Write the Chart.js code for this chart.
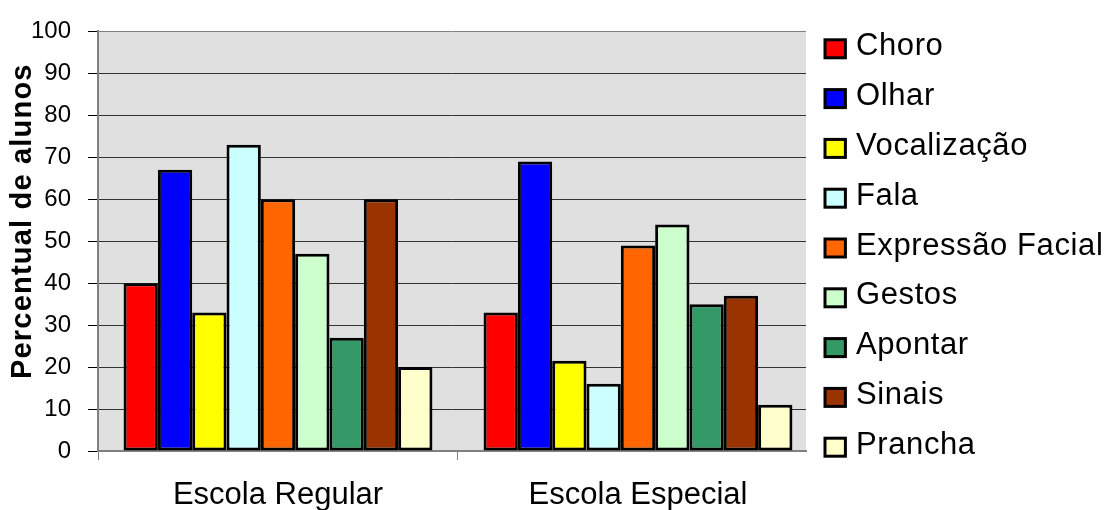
<!DOCTYPE html>
<html>
<head>
<meta charset="utf-8">
<script src="https://cdn.jsdelivr.net/npm/chart.js@4/dist/chart.umd.min.js"></script>
<style>
  html, body { margin: 0; padding: 0; background: #fff; }
  #wrap { width: 1112px; height: 510px; position: relative; }
</style>
</head>
<body>
<div id="wrap"><canvas id="c" width="1112" height="510"></canvas></div>
<script>
// School type groups along the horizontal axis
const categories = ['Escola Regular', 'Escola Especial'];

// Communication forms (one series each)
const seriesNames = ['Choro', 'Olhar', 'Vocalização', 'Fala', 'Expressão Facial', 'Gestos', 'Apontar', 'Sinais', 'Prancha'];

// Percentage of students per communication form: [Regular, Especial]
const choro        = [40, 33];
const olhar        = [67, 69];
const vocalizacao  = [33, 21.5];
const fala         = [73, 16];
const expressao    = [60, 49];
const gestos       = [47, 54];
const apontar      = [27, 35];
const sinais       = [60, 37];
const prancha      = [20, 11];

const seriesValues = [choro, olhar, vocalizacao, fala, expressao, gestos, apontar, sinais, prancha];

const seriesColors = ['#ff0000', '#0000ff', '#ffff00', '#ccffff', '#ff6600', '#ccffcc', '#339966', '#993300', '#ffffcc'];

const FONT = '"Liberation Sans", Arial, sans-serif';

// Grey plot-area fill
const plotBackground = {
  id: 'plotBackground',
  beforeDraw(chart) {
    const { ctx, chartArea: a } = chart;
    ctx.save();
    ctx.fillStyle = '#e0e0e0';
    ctx.fillRect(a.left, a.top, a.right - a.left, a.bottom - a.top);
    ctx.restore();
  }
};

// Vertical axis title
const yTitle = {
  id: 'yTitle',
  afterDraw(chart) {
    const { ctx, chartArea: a } = chart;
    ctx.save();
    ctx.translate(23, (a.top + a.bottom) / 2 - 20);
    ctx.rotate(-Math.PI / 2);
    ctx.font = 'bold 29px ' + FONT;
    ctx.letterSpacing = '1.2px';
    ctx.fillStyle = '#000';
    ctx.textAlign = 'center';
    ctx.textBaseline = 'middle';
    ctx.fillText('Percentual de alunos', 0, 0);
    ctx.restore();
  }
};

// Legend column to the right of the plot
const sideLegend = {
  id: 'sideLegend',
  afterDraw(chart) {
    const { ctx, chartArea: a } = chart;
    const boxX = a.right + 19, firstY = 39.8, step = 49.8;
    ctx.save();
    ctx.font = '31px ' + FONT;
    ctx.letterSpacing = '0.6px';
    ctx.textAlign = 'left';
    ctx.textBaseline = 'alphabetic';
    chart.data.datasets.forEach((ds, i) => {
      const y = firstY + step * i;
      ctx.fillStyle = ds.backgroundColor;
      ctx.fillRect(boxX, y, 20.4, 18);
      ctx.lineWidth = 3;
      ctx.strokeStyle = '#000';
      ctx.strokeRect(boxX, y, 20.4, 18);
      ctx.fillStyle = '#000';
      ctx.fillText(ds.label, boxX + 31, y + 15.5);
    });
    ctx.restore();
  }
};

new Chart(document.getElementById('c'), {
  type: 'bar',
  data: {
    datasets: seriesNames.map((name, i) => ({
      label: name,
      data: seriesValues[i].map((v, j) => ({ x: j, y: v })),
      backgroundColor: seriesColors[i],
      borderColor: '#000',
      borderWidth: 3,
      borderSkipped: false,
      categoryPercentage: 0.858,
      barPercentage: 1
    }))
  },
  options: {
    responsive: false,
    animation: false,
    devicePixelRatio: 1,
    layout: { padding: { left: 30, top: 29, right: 306, bottom: 0 } },
    plugins: {
      legend: { display: false },
      tooltip: { enabled: false }
    },
    scales: {
      x: {
        type: 'linear',
        min: -0.5,
        max: 1.4667,
        offset: false,
        afterBuildTicks: (s) => { s.ticks = categories.map((_, i) => ({ value: i })); },
        afterFit: (s) => { s.height = 59; },
        ticks: {
          callback: (v) => categories[Math.round(v)],
          font: { family: FONT, size: 31 },
          color: '#000',
          padding: 17,
          autoSkip: false,
          maxRotation: 0
        },
        grid: { offset: true, drawOnChartArea: false, drawTicks: true, tickLength: 9, color: '#808080', lineWidth: 1 },
        border: { color: '#808080', width: 2 }
      },
      y: {
        min: 0,
        max: 100,
        afterFit: (s) => { s.width = 68; },
        ticks: { stepSize: 10, font: { family: FONT, size: 24 }, color: '#000', padding: 17 },
        grid: {
          color: (c) => (c.tick && c.tick.value === 100 ? '#808080' : '#333'),
          tickColor: '#000',
          tickLength: 10,
          lineWidth: 1
        },
        border: { color: '#808080', width: 2 }
      }
    }
  },
  plugins: [plotBackground, yTitle, sideLegend]
});
</script>
</body>
</html>
